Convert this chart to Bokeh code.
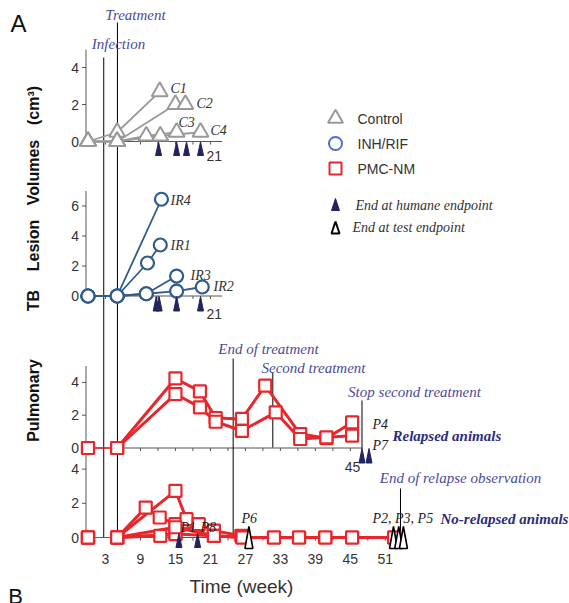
import numpy as np
from bokeh.plotting import figure
from bokeh.models import Range1d
from bokeh.core.properties import value
from bokeh.embed import file_html
from bokeh.resources import INLINE

# ---------------- data (weeks, lesion volume cm3) ----------------
# Panel 1: Control
c1_w = [0, 5, 12.3];            c1_v = [0, 0.5, 2.7]
c2_w = [0, 5, 15.0, 16.7];      c2_v = [0, 0, 2.0, 2.0]
c3_w = [0, 5, 10.0, 15.2];      c3_v = [0, 0, 0.3, 0.5]
c4_w = [0, 5, 12.4, 19.3];      c4_v = [0, 0, 0.3, 0.5]
control_end_w = [12.1, 15.2, 16.9, 19.3]

# Panel 2: INH/RIF
ir4_w = [0, 5, 12.6];               ir4_v = [0, 0, 6.45]
ir1_w = [0, 5, 10.2, 12.4];         ir1_v = [0, 0, 2.2, 3.4]
ir3_w = [0, 5, 10.0, 15.2];         ir3_v = [0, 0, 0.15, 1.33]
ir2_w = [0, 5, 10.0, 15.2, 19.6];   ir2_v = [0, 0, 0.15, 0.33, 0.6]
inh_end_w = [11.7, 12.2, 15.2, 19.3]

# Panel 3: PMC-NM relapsed animals
p4_w = [0, 5, 15, 19.2, 21.9, 26.4, 30.4, 36.4, 40.9, 45.3]
p4_v = [0, 0, 4.24, 3.45, 1.83, 1.77, 3.8, 0.85, 0.6, 1.56]
p7_w = [0, 5, 15, 19.2, 21.9, 26.4, 32.2, 36.4, 40.9, 45.3]
p7_v = [0, 0, 3.29, 2.48, 1.6, 1.05, 2.17, 0.55, 0.65, 0.75]
relapse_end_w = [47.0, 48.2]

# Panel 4: PMC-NM no-relapsed animals
pa_w = [0, 5, 9.9, 12.3, 15];          pa_v = [0, 0, 1.75, 1.17, 0.78]
pb_w = [0, 5, 15, 16.9];               pb_v = [0, 0, 2.73, 1.07]
pc_w = [0, 5, 15, 19, 21.6, 26.3];     pc_v = [0, 0, 0.2, 0.78, 0.4, 0.1]
pd_w = [0, 5, 12.4, 15, 21.6, 26.5, 31.9, 36.2, 40.7, 45.3, 52.5]
pd_v = [0, 0, 0.1, 0.2, 0.1, 0, 0, 0, 0, 0, 0]
pe_w = [0, 5, 15, 21.6, 26.5, 31.9, 36.2, 40.7, 45.3, 52.5]
pe_v = [0, 0, 0.6, 0.1, 0, 0, 0, 0, 0, 0]
humane4_w = [15.6, 18.8]
test4_w = [27.6, 52.4, 53.3, 54.1]

# ticks
p1_yticks = [0, 2, 4]
p2_yticks = [0, 2, 4, 6]
p3_yticks = [0, 2, 4]
p4_yticks = [0, 2, 4]
bottom_xticks = [3, 9, 15, 21, 27, 33, 39, 45, 51]

# events (week)
events = {"Infection": 2.7, "Treatment": 5.05, "End of treatment": 24.9,
          "Second treatment": 31.7, "Stop second treatment": 47.0,
          "End of relapse observation": 53.6}

# ---------------- layout ----------------
W, H = 569, 603
OFF = 0
X0 = 87.5 - OFF          # canvas x of week 0
PXW = 5.83               # px per week
AX_W = (85.5 - 87.5) / PXW

GRAY = "#999999"
BLUE = "#2f5b8e"
RED = "#e8262b"
NAVY = "#23235f"
ANN = "#4b4b98"
AXC = "#555555"
SERIF = value("Liberation Serif")
SANS = value("Liberation Sans")

p = figure(width=W, height=H, output_backend="svg", toolbar_location=None,
           min_border=0, x_axis_location=None, y_axis_location=None,
           x_range=Range1d(-X0 / PXW, (W - X0) / PXW), y_range=Range1d(H, 0))
p.grid.visible = False
p.outline_line_color = None
p.background_fill_color = "white"
p.border_fill_color = "white"
p.extra_x_ranges = {"px": Range1d(0, W)}


def panel_range(zero_img, s):
    z = zero_img - OFF
    return Range1d(start=-(H - z) / s, end=z / s)


PAN = {"p1": (141.0, 18.5), "p2": (295.5, 15.0), "p3": (447.5, 16.4), "p4": (537.0, 17.1)}
p.extra_y_ranges = {k: panel_range(*v) for k, v in PAN.items()}


def ptext(x, y, t, size="13px", font=SANS, style="normal", color="#333333",
          align="left", angle=0.0):
    """text placed in canvas pixel coordinates"""
    p.text(x=[x - OFF], y=[y - OFF], text=[t], x_range_name="px",
           text_font=font, text_font_style=style, text_font_size=size,
           text_color=color, text_align=align, text_baseline="middle", angle=angle)


def y_axis(rn, ticks, top):
    p.segment(x0=[AX_W], y0=[0], x1=[AX_W], y1=[top], y_range_name=rn,
              line_color=AXC, line_width=1)
    n = len(ticks)
    p.segment(x0=[AX_W - 4 / PXW] * n, y0=ticks, x1=[AX_W] * n, y1=ticks,
              y_range_name=rn, line_color=AXC, line_width=1)
    p.text(x=[AX_W - 7 / PXW] * n, y=ticks, text=[str(t) for t in ticks],
           y_range_name=rn, text_font=SANS, text_font_size="14px",
           text_color="#333333", text_align="right", text_baseline="middle")


def x_axis(rn, w_end, ticks):
    s = PAN[rn][1]
    p.segment(x0=[AX_W], y0=[0], x1=[w_end], y1=[0], y_range_name=rn,
              line_color=AXC, line_width=1)
    n = len(ticks)
    p.segment(x0=ticks, y0=[0] * n, x1=ticks, y1=[-3 / s] * n, y_range_name=rn,
              line_color=AXC, line_width=1)


def end_tris(rn, weeks, top_px, bot_px, filled=True, half=3.0):
    s = PAN[rn][1]
    xs = [[w - half / PXW, w, w + half / PXW] for w in weeks]
    ys = [[-bot_px / s, -top_px / s, -bot_px / s] for _ in weeks]
    if filled:
        p.patches(xs, ys, y_range_name=rn, fill_color=NAVY, line_color=NAVY, line_width=1)
    else:
        p.patches(xs, ys, y_range_name=rn, fill_color="white", line_color="black", line_width=1.6)


# ----- axes -----
y_axis("p1", p1_yticks, 4.97)
x_axis("p1", 23.0, [3, 6, 9, 12, 15, 18, 21])
y_axis("p2", p2_yticks, 7.0)
x_axis("p2", 23.0, [3, 6, 9, 12, 15, 18, 21])
y_axis("p3", p3_yticks, 5.0)
x_axis("p3", 47.0, list(range(6, 48, 3)))
y_axis("p4", p4_yticks, 5.0)
x_axis("p4", 53.0, list(range(6, 54, 3)))

# ----- event lines (image y extents) -----
ev_extent = {"Infection": (57, 537), "Treatment": (22, 537), "End of treatment": (358, 535),
             "Second treatment": (372, 447), "Stop second treatment": (400, 449),
             "End of relapse observation": (488, 546)}
for name, wk in events.items():
    y0, y1 = ev_extent[name]
    p.segment(x0=[wk], y0=[y0 - OFF], x1=[wk], y1=[y1 - OFF], line_color="black", line_width=1)

ev_label = {"Infection": (118, 43), "Treatment": (135, 14), "End of treatment": (268, 348),
            "Second treatment": (313, 367), "Stop second treatment": (414, 391),
            "End of relapse observation": (460, 477)}
for name, (lx, ly) in ev_label.items():
    ptext(lx, ly, name, size="15px", font=SERIF, style="italic", color=ANN, align="center")

# ----- panel 1: control -----
for w, v in [(c1_w, c1_v), (c2_w, c2_v), (c3_w, c3_v), (c4_w, c4_v)]:
    p.line(w, v, y_range_name="p1", line_color=GRAY, line_width=1.8)
for w, v in [(c1_w, c1_v), (c2_w, c2_v), (c3_w, c3_v), (c4_w, c4_v)]:
    p.scatter(w, v, y_range_name="p1", marker="triangle", size=16,
              line_color=GRAY, fill_color="white", line_width=2)
end_tris("p1", control_end_w, 0.5, 14)
for t, (lx, ly) in {"C1": (170, 88), "C2": (196, 103), "C3": (178, 122), "C4": (210, 130)}.items():
    ptext(lx, ly, t, size="14px", font=SERIF, style="italic", color="#333333")
ptext(206, 155, "21", size="14px")

# ----- panel 2: INH/RIF -----
for w, v in [(ir4_w, ir4_v), (ir1_w, ir1_v), (ir3_w, ir3_v), (ir2_w, ir2_v)]:
    p.line(w, v, y_range_name="p2", line_color=BLUE, line_width=1.8)
for w, v in [(ir4_w, ir4_v), (ir1_w, ir1_v), (ir3_w, ir3_v), (ir2_w, ir2_v)]:
    p.scatter(w, v, y_range_name="p2", marker="circle", size=13,
              line_color=BLUE, fill_color="white", line_width=2.2)
end_tris("p2", inh_end_w, 0.5, 15)
for t, (lx, ly) in {"IR4": (170, 200), "IR1": (170, 245), "IR3": (190, 275), "IR2": (213, 286)}.items():
    ptext(lx, ly, t, size="14px", font=SERIF, style="italic", color="#333333")
ptext(206, 313, "21", size="14px")

# ----- panel 3: relapsed -----
for w, v in [(p4_w, p4_v), (p7_w, p7_v)]:
    p.line(w[:2], v[:2], y_range_name="p3", line_color=RED, line_width=1.2)
    p.line(w[1:], v[1:], y_range_name="p3", line_color=RED, line_width=3)
for w, v in [(p4_w, p4_v), (p7_w, p7_v)]:
    p.scatter(w, v, y_range_name="p3", marker="square", size=12,
              line_color=RED, fill_color="white", line_width=2.2)
end_tris("p3", relapse_end_w, 0.5, 15)
ptext(372, 424, "P4", size="14px", font=SERIF, style="italic", color="#222222")
ptext(372, 445, "P7", size="14px", font=SERIF, style="italic", color="#222222")
ptext(392, 435, "Relapsed animals", size="15px", font=SERIF, style="bold italic", color="#2c2c7c")
ptext(352, 466, "45", size="14px", align="center")

# ----- panel 4: no-relapsed -----
p4series = [(pa_w, pa_v), (pb_w, pb_v), (pc_w, pc_v), (pd_w, pd_v), (pe_w, pe_v)]
for w, v in p4series:
    p.line(w[:2], v[:2], y_range_name="p4", line_color=RED, line_width=1.2)
    p.line(w[1:], v[1:], y_range_name="p4", line_color=RED, line_width=3)
for w, v in p4series:
    p.scatter(w, v, y_range_name="p4", marker="square", size=12,
              line_color=RED, fill_color="white", line_width=2.2)
end_tris("p4", humane4_w, -4, 10)
end_tris("p4", test4_w, -11, 11, filled=False, half=4.0)
ptext(180, 527, "P1", size="14px", font=SERIF, style="italic", color="#222222")
ptext(200, 527, "P8", size="14px", font=SERIF, style="italic", color="#222222")
ptext(241, 518, "P6", size="14px", font=SERIF, style="italic", color="#222222")
ptext(372, 518, "P2, P3, P5", size="14px", font=SERIF, style="italic", color="#222222")
ptext(440, 518, "No-relapsed animals", size="15px", font=SERIF, style="bold italic", color="#2c2c7c")

# bottom tick labels and axis title
n = len(bottom_xticks)
p.text(x=bottom_xticks, y=[558 - OFF] * n, text=[str(t) for t in bottom_xticks],
       text_font=SANS, text_font_size="14px", text_color="#333333",
       text_align="center", text_baseline="middle")
ptext(241, 586, "Time (week)", size="19px", color="#333333", align="center")

# ----- y label (rotated words) -----
for t, ly in {"(cm³)": 105, "Volumes": 172, "Lesion": 245, "TB": 300, "Pulmonary": 400}.items():
    ptext(33, ly, t, size="16px", style="bold", color="#111111", align="center", angle=np.pi / 2)

# ----- legend -----
LX = 335
p.scatter([LX - OFF], [118 - OFF], x_range_name="px", marker="triangle", size=15,
          line_color=GRAY, fill_color="white", line_width=2)
p.scatter([LX - OFF], [143 - OFF], x_range_name="px", marker="circle", size=13,
          line_color="#4a72c4", fill_color="white", line_width=2)
p.scatter([LX - OFF], [168 - OFF], x_range_name="px", marker="square", size=12,
          line_color=RED, fill_color="white", line_width=2)
ptext(357, 118, "Control", size="14px", color="#333333")
ptext(357, 143, "INH/RIF", size="14px", color="#333333")
ptext(357, 168, "PMC-NM", size="14px", color="#333333")
p.patches([[LX - 4 - OFF, LX - OFF, LX + 4 - OFF]], [[210 - OFF, 198 - OFF, 210 - OFF]],
          x_range_name="px", fill_color=NAVY, line_color=NAVY)
p.patches([[LX - 4 - OFF, LX - OFF, LX + 4 - OFF]], [[233 - OFF, 221 - OFF, 233 - OFF]],
          x_range_name="px", fill_color="white", line_color="black", line_width=2)
ptext(355, 205, "End at humane endpoint", size="14px", font=SERIF, style="italic", color="#333333")
ptext(352, 227, "End at test endpoint", size="14px", font=SERIF, style="italic", color="#333333")

# panel letters
ptext(18, 23, "A", size="24px", color="#111111", align="center")
ptext(15, 596, "B", size="22px", color="#111111", align="center")

open("out.html", "w").write(file_html(p, INLINE))
